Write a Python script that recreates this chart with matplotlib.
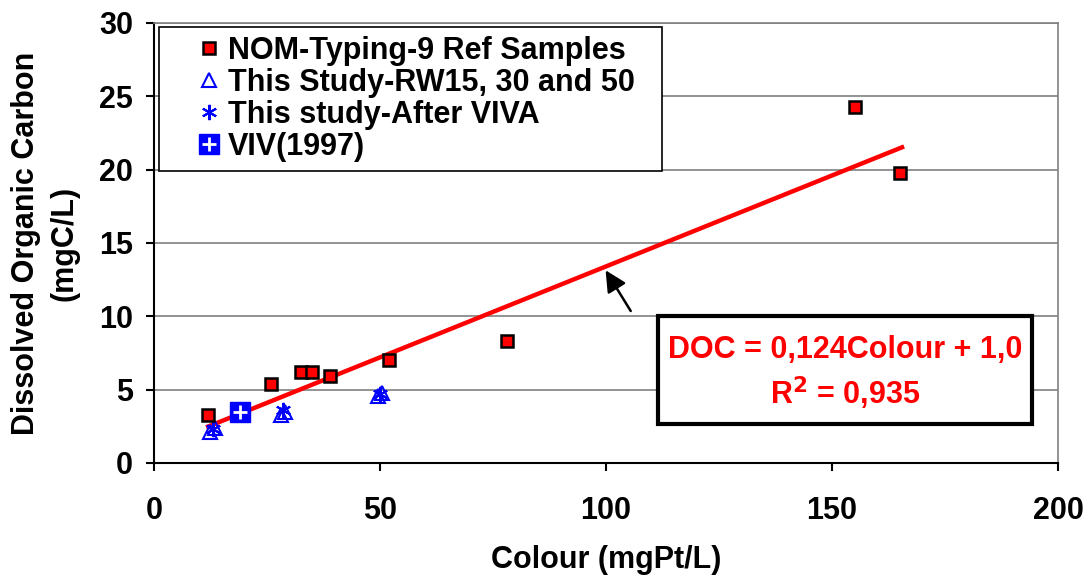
import matplotlib
matplotlib.use("Agg")
import matplotlib.pyplot as plt
import numpy as np
from matplotlib.lines import Line2D
from matplotlib.legend_handler import HandlerTuple, HandlerLine2D
from matplotlib.patches import Rectangle

plt.rcParams['font.family'] = ['Liberation Sans', 'DejaVu Sans']
plt.rcParams['font.weight'] = 'bold'

# Data
nom_x = [12, 26, 32.5, 35, 39, 52, 78, 155, 165]
nom_y = [3.3, 5.4, 6.2, 6.2, 5.9, 7.0, 8.3, 24.3, 19.8]
rw_x = [12.5, 13.5, 28, 29, 49.5, 50.5]
rw_y = [2.1, 2.4, 3.3, 3.5, 4.6, 4.8]
viva_x = [13, 28.5, 50]
viva_y = [2.3, 3.6, 4.7]
viv_x = [19]
viv_y = [3.5]
slope, intercept = 0.124, 1.0
fit_x = [12, 165.5]

FS = 22

fig = plt.figure(figsize=(10.88, 5.77), dpi=100)
ax = fig.add_axes([0.1415, 0.1976, 0.8309, 0.7626])

ax.set_xlim(0, 200)
ax.set_ylim(0, 30)
ax.set_yticks(np.arange(0, 31, 5))
ax.set_xticks(np.arange(0, 201, 50))
ax.yaxis.grid(True, color='#808080', linewidth=1.2)
ax.set_axisbelow(True)
for s in ['top', 'right']:
    ax.spines[s].set_color('#808080')
    ax.spines[s].set_linewidth(1.2)
for s in ['left', 'bottom']:
    ax.spines[s].set_color('black')
    ax.spines[s].set_linewidth(1.5)
ax.tick_params(direction='out', length=6, width=1.5, labelsize=FS)
ax.tick_params(axis='y', pad=9)
ax.tick_params(axis='x', pad=18)
for lab in ax.get_xticklabels() + ax.get_yticklabels():
    lab.set_fontweight('bold')

fx = np.array(fit_x)
ax.plot(fx, slope * fx + intercept, color='red', linewidth=3.2, zorder=2)

ax.plot(nom_x, nom_y, 's', color='red', markeredgecolor='black', markeredgewidth=1.8,
        markersize=9, linestyle='none', label='NOM-Typing-9 Ref Samples', zorder=4)
ax.plot(rw_x, rw_y, '^', markerfacecolor='none', markeredgecolor='blue', markeredgewidth=1.5,
        markersize=10, linestyle='none', label='This Study-RW15, 30 and 50', zorder=3)
ax.plot(viva_x, viva_y, marker=(6, 2, 0), color='blue', markeredgewidth=1.5,
        markersize=11, linestyle='none', label='This study-After VIVA', zorder=3)
ax.plot(viv_x, viv_y, 's', color='blue', markersize=15, linestyle='none', zorder=3)
ax.plot(viv_x, viv_y, '+', color='white', markersize=10, markeredgewidth=2, linestyle='none', zorder=3)

h1, l1 = ax.get_legend_handles_labels()
viv_handle = (Line2D([], [], marker='s', color='blue', markersize=14, linestyle='none'),
              Line2D([], [], marker='+', color='white', markersize=10, markeredgewidth=2,
                     linestyle='none'))
leg = ax.legend(h1 + [viv_handle], l1 + ['VIV(1997)'], loc='upper left',
                bbox_to_anchor=(0.0055, 0.6, 0.5564, 0.391), mode='expand',
                fancybox=False, framealpha=1,
                edgecolor='black', prop={'weight': 'bold', 'size': FS},
                handlelength=1.75, handletextpad=0.2, labelspacing=0.06,
                borderpad=0.3, borderaxespad=0,
                handler_map={tuple: HandlerTuple(ndivide=1, xpad=0.9),
                             Line2D: HandlerLine2D(xpad=0.9)})
leg.get_frame().set_linewidth(1.2)

ax.annotate('', xy=(99.6, 13.3), xytext=(105.8, 10.2),
            arrowprops=dict(arrowstyle='-|>', color='black', lw=1.8, mutation_scale=32))

ax.add_patch(Rectangle((111.5, 2.66), 82.7, 7.36, facecolor='white', edgecolor='black',
                       linewidth=3, zorder=5))
ax.text(152.9, 6.1, 'DOC = 0,124Colour + 1,0\nR$^2$ = 0,935', color='red', fontsize=FS,
        fontweight='bold', ha='center', va='center', linespacing=1.35, zorder=6)

ax.set_xlabel('Colour (mgPt/L)', fontsize=FS, fontweight='bold')
ax.xaxis.set_label_coords(0.5, -0.187)
ax.set_ylabel('Dissolved Organic Carbon\n(mgC/L)', fontsize=FS, fontweight='bold',
              linespacing=1.4)
ax.yaxis.set_label_coords(-0.082, 0.5)

fig.savefig('out.png', dpi=100)
